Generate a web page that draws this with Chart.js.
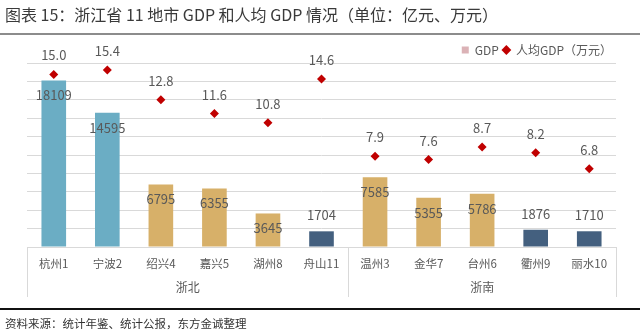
<!DOCTYPE html>
<html>
<head>
<meta charset="utf-8">
<script src="https://cdn.jsdelivr.net/npm/chart.js@4.4.1/dist/chart.umd.min.js"></script>
<style>
html,body{margin:0;padding:0;background:#fff;}
#wrap{position:relative;width:640px;height:334px;overflow:hidden;font-family:"Noto Sans CJK SC","Noto Sans",sans-serif;}
#title{position:absolute;left:5px;top:2px;font-size:16px;color:#3a3a3a;white-space:nowrap;}
#topLine{position:absolute;left:0;top:33px;width:640px;height:2px;background:#8c8c8c;}
#bottomLine{position:absolute;left:0;top:308px;width:640px;height:2px;background:#111;}
#source{position:absolute;left:5px;top:315px;font-size:11.5px;color:#333;white-space:nowrap;}
canvas{position:absolute;left:0;top:0;}
</style>
</head>
<body>
<div id="wrap">
<canvas id="chartCanvas" width="640" height="334"></canvas>
<div id="title">图表 15：浙江省 11 地市 GDP 和人均 GDP 情况（单位：亿元、万元）</div>
<div id="topLine"></div>
<div id="bottomLine"></div>
<div id="source">资料来源：统计年鉴、统计公报，东方金诚整理</div>
</div>
<script>

// data
const cities = ["杭州1","宁波2","绍兴4","嘉兴5","湖州8","舟山11","温州3","金华7","台州6","衢州9","丽水10"];
const gdp = [18109,14595,6795,6355,3645,1704,7585,5355,5786,1876,1710];
const gdpPerCapita = [15.0,15.4,12.8,11.6,10.8,14.6,7.9,7.6,8.7,8.2,6.8];
const tiers = [1,1,2,2,2,3,2,2,2,3,3];
const regions = ["浙北","浙南"];
const regionSizes = [6,5];

const tierColors = {1:"#6badc4",2:"#d7b069",3:"#44607f"};
const barColors = tiers.map(t => tierColors[t]);

const FONT = '"Noto Sans CJK SC","Noto Sans",sans-serif';

// value labels on bars and points
const labelPlugin = {
id:"valueLabels",
afterDatasetsDraw(chart){
const ctx = chart.ctx;
ctx.save();
ctx.font = "13px " + FONT;
ctx.fillStyle = "#595959";
ctx.textAlign = "center";
ctx.textBaseline = "middle";

const bars = chart.getDatasetMeta(0).data;
bars.forEach((bar,i)=>{
const v = gdp[i];
if(v > 3000){
ctx.fillText(String(v), bar.x, bar.y + 15);
}else{
ctx.fillText(String(v), bar.x, bar.y - 16);
}
});

const pts = chart.getDatasetMeta(1).data;
pts.forEach((p,i)=>{
ctx.fillText(gdpPerCapita[i].toFixed(1), p.x, p.y - 19);
});

ctx.restore();
}
};

// group labels + separators under the x axis
const groupPlugin = {
id:"groupAxis",
afterDraw(chart){
const ctx = chart.ctx;
const x = chart.scales.x;
const area = chart.chartArea;
const half = (x.getPixelForValue(1) - x.getPixelForValue(0)) / 2;
ctx.save();
ctx.strokeStyle = "#d9d9d9";
ctx.lineWidth = 1;
ctx.font = "12px " + FONT;
ctx.fillStyle = "#595959";
ctx.textAlign = "center";
ctx.textBaseline = "middle";

let start = 0;
const edges = [x.getPixelForValue(0) - half];
regions.forEach((name,k)=>{
const end = start + regionSizes[k] - 1;
const left = x.getPixelForValue(start) - half;
const right = x.getPixelForValue(end) + half;
edges.push(right);
ctx.fillText(name, (left + right) / 2, area.bottom + 40);
start = end + 1;
});

edges.forEach(px=>{
const xx = Math.round(px) + 0.5;
ctx.beginPath();
ctx.moveTo(xx, area.bottom);
ctx.lineTo(xx, area.bottom + 50);
ctx.stroke();
});
ctx.restore();
}
};

const ctx = document.getElementById("chartCanvas");

const chart = new Chart(ctx,{
type:"bar",
data:{
labels: cities,
datasets:[
{
label:"GDP",
data: gdp,
backgroundColor: barColors,
barPercentage:0.46,
categoryPercentage:1,
yAxisID:"y",
order:2
},
{
type:"line",
label:"人均GDP（万元）",
data: gdpPerCapita,
showLine:false,
pointStyle:"rectRot",
pointRadius:4.5,
pointHoverRadius:4.5,
pointBackgroundColor:"#c00000",
pointBorderColor:"#c00000",
pointBorderWidth:0,
backgroundColor:"#c00000",
borderColor:"#c00000",
yAxisID:"y1",
order:1
}
]
},
options:{
responsive:false,
animation:false,
events:[],
layout:{
padding:{left:27,right:24,top:40,bottom:0}
},
plugins:{
tooltip:{enabled:false},
legend:{
position:"top",
align:"end",
maxHeight:23,
labels:{
usePointStyle:true,
boxWidth:7,
boxHeight:7,
padding:4,
color:"#595959",
font:{size:12,family:FONT},
generateLabels(){
return [
{text:"GDP",fillStyle:"#dbb2b6",strokeStyle:"#dbb2b6",lineWidth:0,pointStyle:"rect",datasetIndex:0,fontColor:"#595959"},
{text:"人均GDP（万元）",fillStyle:"#c00000",strokeStyle:"#c00000",lineWidth:0,pointStyle:"rectRot",datasetIndex:1,fontColor:"#595959"}
];
}
}
}
},
scales:{
x:{
grid:{display:false,drawTicks:false},
border:{display:true,color:"#d9d9d9"},
ticks:{
color:"#595959",
font:{size:11.5,family:FONT},
padding:10,
maxRotation:0,
autoSkip:false
},
afterFit(scale){
scale.height = 87;
}
},
y:{
position:"left",
min:0,
max:20000,
ticks:{display:false,stepSize:2000},
grid:{color:"#d9d9d9",drawTicks:false},
border:{display:false}
},
y1:{
position:"right",
display:false,
min:0,
max:16
}
}
},
plugins:[labelPlugin,groupPlugin]
});

</script>
</body>
</html>
